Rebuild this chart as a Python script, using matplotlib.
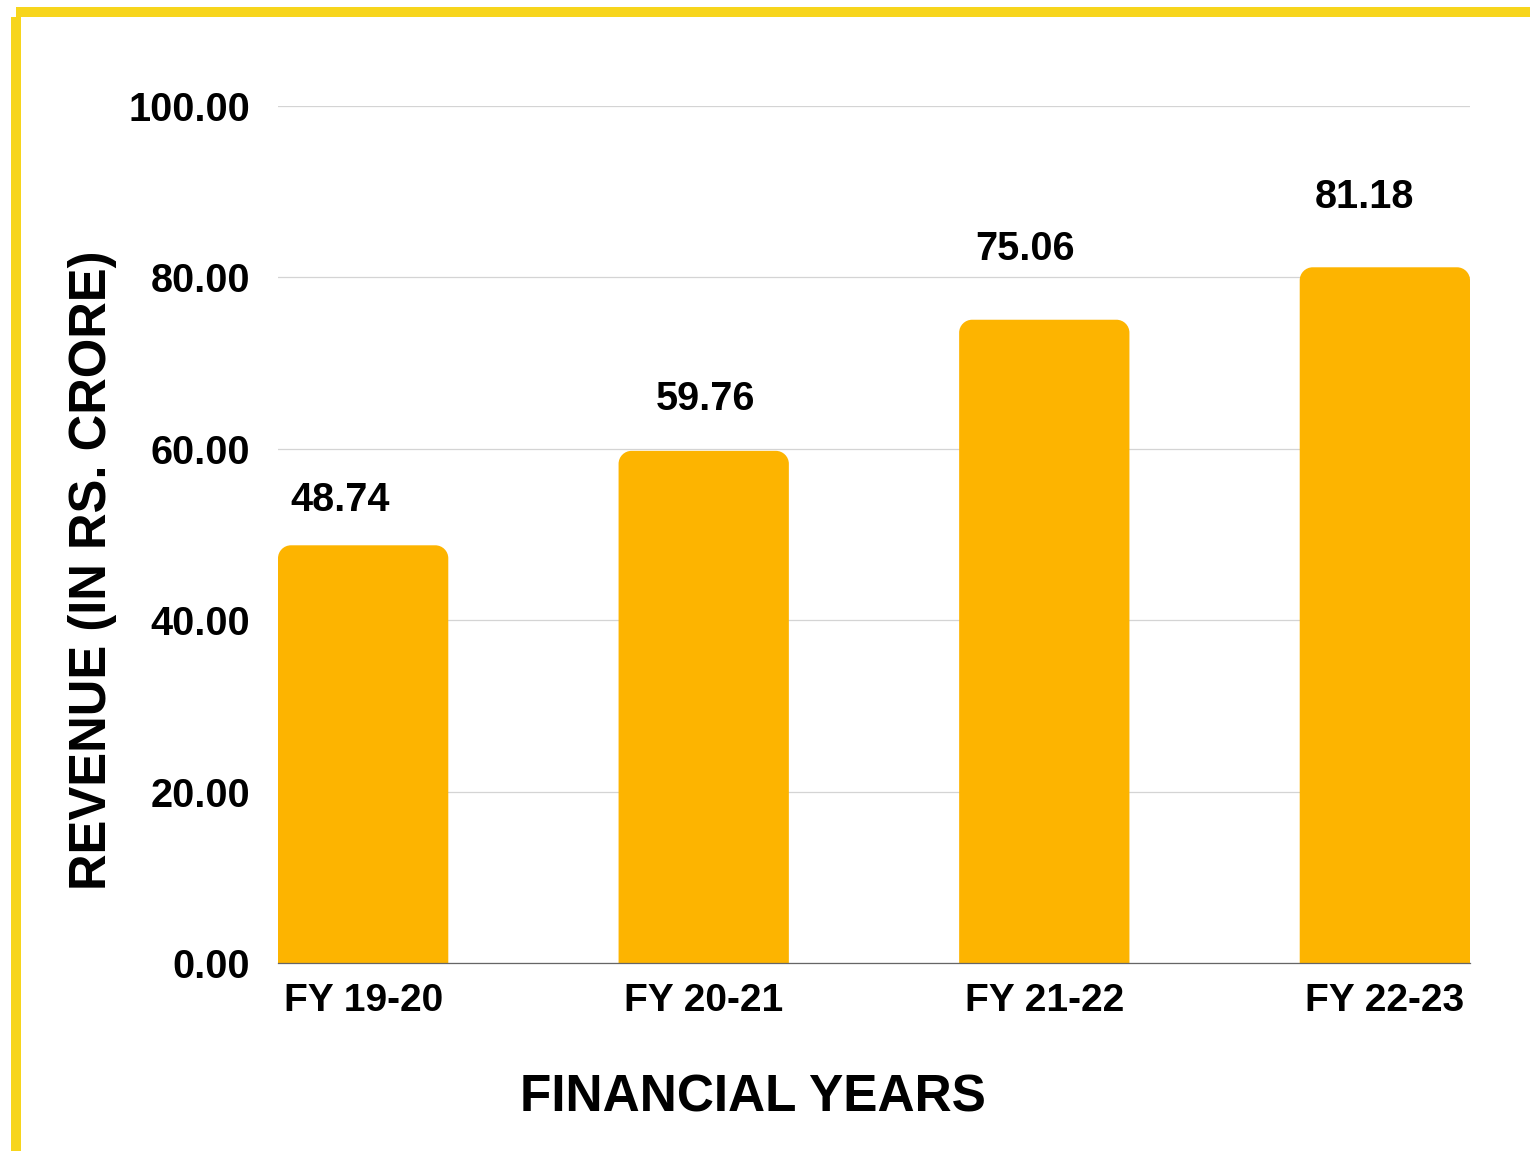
import matplotlib
matplotlib.use("Agg")
import matplotlib.pyplot as plt
from matplotlib.patches import Rectangle, PathPatch
from matplotlib.path import Path

categories = ["FY 19-20", "FY 20-21", "FY 21-22", "FY 22-23"]
revenue = [48.74, 59.76, 75.06, 81.18]
yticks = [0, 20, 40, 60, 80, 100]
ytick_labels = ["0.00", "20.00", "40.00", "60.00", "80.00", "100.00"]

# label offsets in pixels (dx, dy above bar top) - styling only
label_dx = [-23, 2, -19, -20]
label_dy = [34, 41, 60, 59]

W, H = 1530, 1151
DPI = 100
fig = plt.figure(figsize=(W / DPI, H / DPI), dpi=DPI)
fig.patch.set_facecolor("white")

ax = fig.add_axes([278 / W, 1 - 963 / H, (1470 - 278) / W, (963 - 106) / H])
ax.set_xlim(-0.25, len(categories) - 0.75)
ax.set_ylim(0, 100)

bar_color = "#FDB400"
bar_w = 0.5
x_pos = list(range(len(categories)))

# pixels per data unit (for the corner radius)
ppx = (1470 - 278) / 3.5
ppy = (963 - 106) / 100.0
r_px = 13
rx = r_px / ppx
ry = r_px / ppy
k = 0.5523

def rounded_top_bar(left, width, height):
    r = left + width
    verts = [
        (left, 0), (left, height - ry),
        (left, height - ry + k * ry), (left + rx - k * rx, height), (left + rx, height),
        (r - rx, height),
        (r - rx + k * rx, height), (r, height - ry + k * ry), (r, height - ry),
        (r, 0), (left, 0),
    ]
    codes = [Path.MOVETO, Path.LINETO,
             Path.CURVE4, Path.CURVE4, Path.CURVE4,
             Path.LINETO,
             Path.CURVE4, Path.CURVE4, Path.CURVE4,
             Path.LINETO, Path.CLOSEPOLY]
    return Path(verts, codes)

for x, v in zip(x_pos, revenue):
    ax.add_patch(PathPatch(rounded_top_bar(x - bar_w / 2, bar_w, v),
                           facecolor=bar_color, edgecolor="none", zorder=3))

for i, (x, v) in enumerate(zip(x_pos, revenue)):
    ax.annotate(f"{v:.2f}", xy=(x, v), xytext=(label_dx[i] * 0.72, label_dy[i] * 0.72),
                textcoords="offset points", ha="center", va="baseline",
                fontsize=28.5, fontweight="bold", family="Liberation Sans",
                color="black", zorder=5)

ax.set_yticks(yticks)
ax.set_yticklabels(ytick_labels)
ax.set_xticks(x_pos)
ax.set_xticklabels(categories)
ax.tick_params(axis="y", length=0, pad=20)
ax.tick_params(axis="x", length=0, pad=14.5)
for lab in ax.get_yticklabels():
    lab.set_fontfamily("Liberation Sans")
    lab.set_fontweight("bold")
    lab.set_fontsize(28.5)
for lab in ax.get_xticklabels():
    lab.set_fontfamily("Liberation Sans")
    lab.set_fontweight("bold")
    lab.set_fontsize(28)

ax.grid(axis="y", color="#d4d4d4", linewidth=0.9, zorder=0)
ax.set_axisbelow(True)
for s in ["top", "right", "left"]:
    ax.spines[s].set_visible(False)
ax.spines["bottom"].set_color("#666666")
ax.spines["bottom"].set_linewidth(0.9)
ax.spines["bottom"].set_zorder(4)

fig.text(753 / W, 1 - 1112 / H, "FINANCIAL YEARS", ha="center", va="baseline",
         fontsize=37, fontweight="bold", family="Liberation Sans")
fig.text(93 / W, 1 - 570 / H, "REVENUE (IN RS. CRORE)", ha="center", va="center",
         rotation=90, fontsize=36.5, fontweight="bold", family="Liberation Sans")

border = "#F7D51C"
fig.add_artist(Rectangle((16 / W, 1 - 17 / H), 1 - 16 / W, 10 / H,
                         transform=fig.transFigure, facecolor=border, edgecolor="none"))
fig.add_artist(Rectangle((11 / W, 0), 10 / W, 1 - 17 / H,
                         transform=fig.transFigure, facecolor=border, edgecolor="none"))

fig.savefig("out.png", dpi=DPI)
